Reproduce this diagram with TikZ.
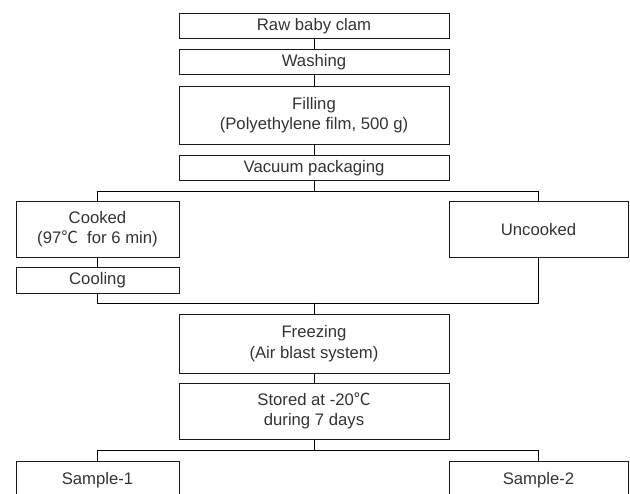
\documentclass[tikz,border=0pt]{standalone}
\usepackage{fontspec}
\setmainfont{Liberation Sans}
\newfontfamily\cjk{Noto Sans CJK SC}
\newcommand{\degc}{{\cjk ℃}}

\begin{document}
\begin{tikzpicture}[x=1pt, y=-1pt, line width=0.8pt,
    box/.style={draw=black!90, minimum height=25pt, inner sep=0pt, align=center, text=black!80, font=\fontsize{16.7}{20.5}\selectfont},
    cbox/.style={box, minimum width=270pt},
    lbox/.style={box, minimum width=163pt},
    rbox/.style={box, minimum width=179pt}]
    \clip (0,0) rectangle (630,494);
    \node[cbox] (raw) at (314,25.7) {Raw baby clam};
    \node[cbox] (wash) at (314,62) {Washing};
    \node[cbox, minimum height=58pt] (fill) at (314,115) {Filling\\(Polyethylene film, 500 g)};
    \node[cbox] (vac) at (314,168) {Vacuum packaging};
    \node[lbox, minimum height=55.5pt] (ck) at (97.5,229.2) {Cooked\\(97\degc\hspace{0.55em}for 6 min)};
    \node[rbox, minimum height=55.5pt] (uck) at (538.5,229.2) {Uncooked};
    \node[lbox, minimum height=26pt] (cool) at (97.5,280) {Cooling};
    \node[cbox, minimum height=59pt] (frz) at (314,343.5) {Freezing\\(Air blast system)};
    \node[cbox, minimum height=56pt] (st) at (314,411) {Stored at -20\degc\\during 7 days};
    \node[lbox, minimum height=38pt] (s1) at (97.5,480) {Sample-1};
    \node[rbox, minimum height=38pt] (s2) at (538.5,480) {Sample-2};

    \coordinate (j1) at (314,191);
    \coordinate (j2) at (314,303);
    \coordinate (j3) at (314,450.7);

    \draw (raw) -- (wash);
    \draw (wash) -- (fill);
    \draw (fill) -- (vac);
    \draw (vac) -- (j1);
    \draw (j1) -| (ck);
    \draw (j1) -| (uck);
    \draw (ck) -- (cool);
    \draw (cool) |- (j2);
    \draw (j2) -| (uck);
    \draw (j2) -- (frz);
    \draw (frz) -- (st);
    \draw (st) -- (j3);
    \draw (j3) -| (s1);
    \draw (j3) -| (s2);
\end{tikzpicture}
\end{document}
